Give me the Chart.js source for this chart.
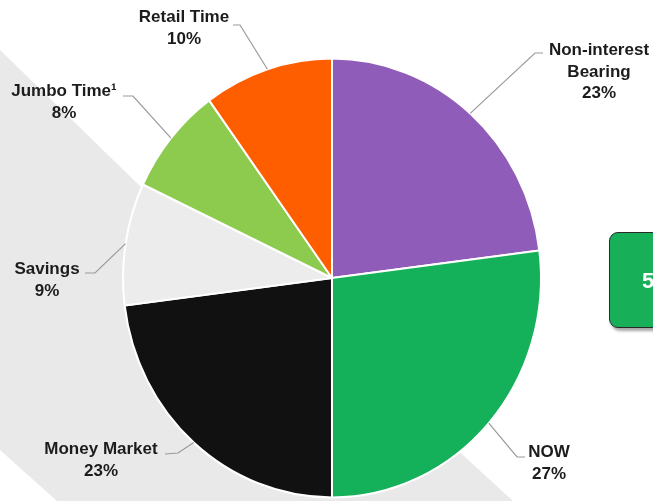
<!DOCTYPE html>
<html>
<head>
<meta charset="utf-8">
<script src="https://cdn.jsdelivr.net/npm/chart.js@4"></script>
<style>
  html, body { margin: 0; padding: 0; background: #ffffff; overflow: hidden; }
  #wrap { position: relative; width: 653px; height: 501px; }
  #c { position: absolute; left: 0; top: 0; }
  #box {
    position: absolute; left: 609px; top: 232px; width: 90px; height: 96px;
    background: #17af58; border: 1.5px solid #2a2a2a; border-radius: 9px;
    box-shadow: 2px 3px 3px rgba(0,0,0,0.35);
    font: bold 22px "Liberation Sans", Arial, sans-serif; color: #ffffff;
    box-sizing: border-box; padding-left: 32px; line-height: 96px;
  }
</style>
</head>
<body>
<div id="wrap">
  <canvas id="c" width="653" height="501"></canvas>
  <div id="box">5</div>
</div>
<script>
// ---- data ----
const categories = ['Non-interest Bearing', 'NOW', 'Money Market', 'Savings', 'Jumbo Time¹', 'Retail Time'];
const labelLines = [['Non-interest', 'Bearing'], ['NOW'], ['Money Market'], ['Savings'], ['Jumbo Time¹'], ['Retail Time']];
const shares = [23, 27, 23, 9, 8, 10];
const sliceColors = ['#905cb9', '#15b05a', '#111111', '#ececec', '#8dcb4e', '#ff5e00'];

// ---- layout (label anchors: center x, first baseline, elbow points) ----
const labelPos = [
  { x: 599, y: 55,  elbow: [[543, 53], [535, 53]] },
  { x: 549, y: 457, elbow: [[525, 457], [517, 457]] },
  { x: 101, y: 454, elbow: [[165, 454], [178, 453]] },
  { x: 47,  y: 274, elbow: [[85, 273], [95, 273]] },
  { x: 64,  y: 96,  elbow: [[123, 96], [133, 96]] },
  { x: 184, y: 22,  elbow: [[233, 25], [240, 25]] }
];
const SY = 1.05; // vertical stretch of the pie

const bgPlugin = {
  id: 'bg',
  beforeDraw(chart) {
    const ctx = chart.ctx;
    ctx.save();
    ctx.fillStyle = '#ffffff';
    ctx.fillRect(0, 0, chart.width, chart.height);
    ctx.fillStyle = '#e9e9e9';
    ctx.beginPath();
    ctx.moveTo(0, 50);
    ctx.lineTo(140, 186);
    ctx.lineTo(465, 457);
    ctx.lineTo(513, 501);
    ctx.lineTo(57, 501);
    ctx.lineTo(0, 450);
    ctx.closePath();
    ctx.fill();
    ctx.restore();
  }
};

const stretchPlugin = {
  id: 'stretch',
  beforeDatasetsDraw(chart) {
    const arc = chart.getDatasetMeta(0).data[0];
    const ctx = chart.ctx;
    ctx.save();
    ctx.translate(arc.x, arc.y);
    ctx.scale(1, SY);
    ctx.translate(-arc.x, -arc.y);
  },
  afterDatasetsDraw(chart) {
    chart.ctx.restore();
  }
};

const labelPlugin = {
  id: 'labels',
  afterDraw(chart) {
    const ctx = chart.ctx;
    const meta = chart.getDatasetMeta(0);
    ctx.save();
    meta.data.forEach((arc, i) => {
      const p = labelPos[i];
      const mid = (arc.startAngle + arc.endAngle) / 2;
      const ex = arc.x + Math.cos(mid) * arc.outerRadius;
      const ey = arc.y + Math.sin(mid) * arc.outerRadius * SY;
      ctx.strokeStyle = '#9a9a9a';
      ctx.lineWidth = 1.2;
      ctx.beginPath();
      ctx.moveTo(p.elbow[0][0], p.elbow[0][1]);
      ctx.lineTo(p.elbow[1][0], p.elbow[1][1]);
      ctx.lineTo(ex, ey);
      ctx.stroke();

      ctx.fillStyle = '#1c1c1c';
      ctx.font = 'bold 17px "Liberation Sans", Arial, sans-serif';
      ctx.textAlign = 'center';
      ctx.textBaseline = 'alphabetic';
      const lines = labelLines[i].concat([shares[i] + '%']);
      lines.forEach((t, k) => ctx.fillText(t, p.x, p.y + k * 21.5));
    });
    ctx.restore();
  }
};

new Chart(document.getElementById('c'), {
  type: 'pie',
  data: {
    labels: categories,
    datasets: [{
      data: shares,
      backgroundColor: sliceColors,
      borderColor: '#ffffff',
      borderWidth: 2,
      clip: false
    }]
  },
  options: {
    responsive: false,
    animation: false,
    devicePixelRatio: 1,
    layout: { padding: { left: 122, top: 68, right: 111, bottom: 13 } },
    plugins: { legend: { display: false }, tooltip: { enabled: false } }
  },
  plugins: [bgPlugin, stretchPlugin, labelPlugin]
});
</script>
</body>
</html>
